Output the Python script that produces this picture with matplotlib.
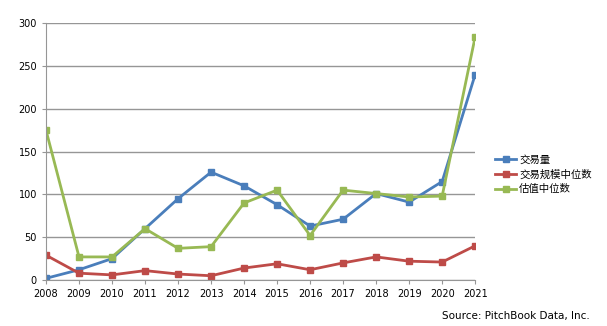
import matplotlib
matplotlib.use("Agg")
import matplotlib.pyplot as plt

plt.rcParams['font.family'] = ['DejaVu Sans', 'Noto Sans CJK SC']

# data
years = list(range(2008, 2022))
deal_count = [2, 12, 25, 60, 95, 126, 110, 88, 63, 71, 101, 91, 115, 240]
median_deal_size = [29, 8, 6, 11, 7, 5, 14, 19, 12, 20, 27, 22, 21, 40]
median_valuation = [175, 27, 27, 60, 37, 39, 90, 105, 52, 105, 101, 97, 98, 284]
labels = ['交易量', '交易规模中位数', '估值中位数']

fig = plt.figure(figsize=(6.07, 3.26), dpi=100)
ax = fig.add_axes([0.0758, 0.141, 0.707, 0.788])

colors = ['#4A7EBB', '#BE4B48', '#98B954']
for vals, lab, c in zip([deal_count, median_deal_size, median_valuation], labels, colors):
    ax.plot(years, vals, color=c, lw=2, marker='s', markersize=4.5, label=lab)

ax.set_xlim(2008, 2021)
ax.set_ylim(0, 300)
ax.set_yticks(range(0, 301, 50))
ax.set_xticks(years)
ax.yaxis.grid(True, color='#969696', lw=1)
ax.set_axisbelow(True)
for s in ['top', 'right']:
    ax.spines[s].set_visible(False)
for s in ['left', 'bottom']:
    ax.spines[s].set_color('#969696')
ax.tick_params(axis='both', labelsize=7, colors='#969696', labelcolor='black', length=3)

leg = ax.legend(loc='upper left', bbox_to_anchor=(1.025, 0.525), frameon=False,
                prop={'family': ['Noto Sans CJK SC', 'DejaVu Sans'], 'size': 7.5},
                handlelength=2.0, labelspacing=0.45, handletextpad=0.3)
for line in leg.get_lines():
    line.set_linewidth(2)

fig.text(0.972, 0.03, 'Source: PitchBook Data, Inc.', ha='right', va='center', fontsize=7.5)

fig.savefig('out.png', dpi=100)
